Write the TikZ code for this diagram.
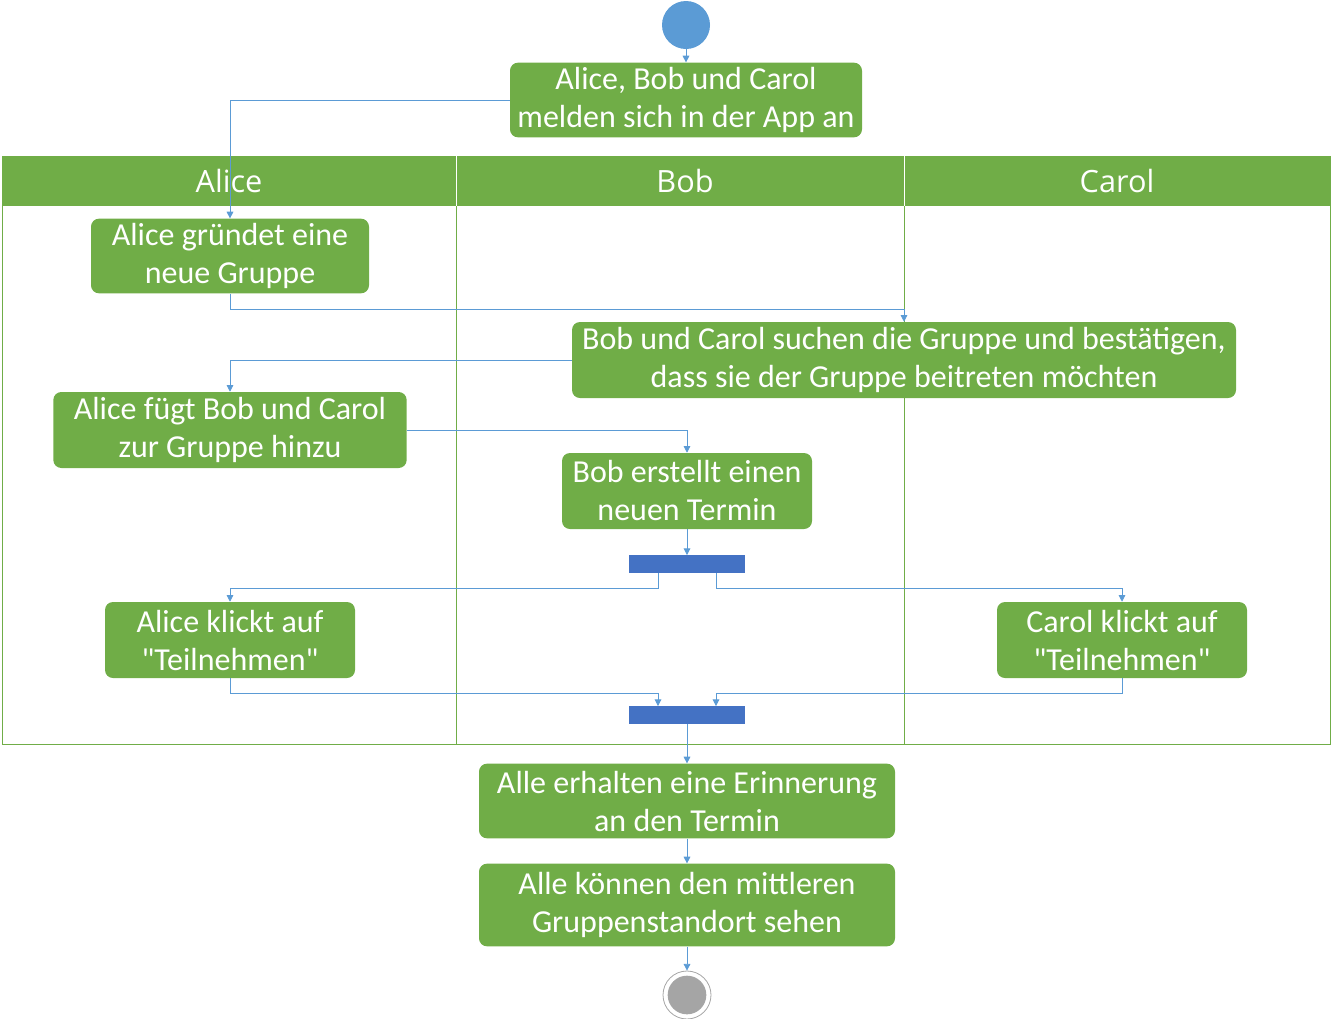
\documentclass[tikz,border=0pt]{standalone}
\usepackage{fontspec}
\setmainfont{Carlito}
\newfontfamily\lanefont{Open Sans}
\usetikzlibrary{arrows.meta}
\definecolor{actgreen}{HTML}{70AD47}
\definecolor{flowblue}{HTML}{5B9BD5}
\definecolor{barblue}{HTML}{4472C4}
\definecolor{endgray}{HTML}{A5A5A5}
\tikzset{
  act/.style={rounded corners=6pt,fill=actgreen,text=white,align=center,inner sep=0pt,
    font=\fontsize{24}{28.5}\selectfont},
  syncbar/.style={fill=barblue,minimum width=87pt,minimum height=13pt,inner sep=0pt},
  flow/.style={draw=flowblue,line width=0.6pt,-{Triangle[length=5pt,width=5pt]}},
  lanetitle/.style={text=white,font=\lanefont\fontsize{23}{27}\selectfont}
}

\begin{document}
\begin{tikzpicture}[x=0.75pt,y=-0.75pt]
\useasboundingbox (0,0) rectangle (1332,1018);
%Дорожки
\fill[actgreen] (2,156) rectangle (1330,206);
\draw[actgreen,line width=0.75pt] (2,156) rectangle (1330,744);
\draw[actgreen,line width=0.75pt] (456,206)--(456,744) (904,206)--(904,744);
\draw[white,line width=0.75pt] (456,156)--(456,206) (904,156)--(904,206);
\node[lanetitle] (laneA) at (229,181) {Alice};
\node[lanetitle] (laneB) at (685,181) {Bob};
\node[lanetitle] (laneC) at (1117,181) {Carol};
%Начало и конец
\node[circle,fill=flowblue,minimum size=36pt,inner sep=0pt] (start) at (686,25) {};
\node[circle,draw=endgray,line width=0.6pt,minimum size=36pt,inner sep=0pt] (stop) at (687,995) {};
\fill[endgray] (stop) circle (14.5pt);
%Действия
\node[act,minimum width=264pt,minimum height=56pt] (login) at (686,100) {Alice, Bob und Carol\\melden sich in der App an};
\node[act,minimum width=208.5pt,minimum height=56pt] (found) at (230,256) {Alice gründet eine\\neue Gruppe};
\node[act,minimum width=498pt,minimum height=57pt] (search) at (904,360) {Bob und Carol suchen die Gruppe und bestätigen,\\dass sie der Gruppe beitreten möchten};
\node[act,minimum width=265pt,minimum height=57pt] (add) at (230,430) {Alice fügt Bob und Carol\\zur Gruppe hinzu};
\node[act,minimum width=187.5pt,minimum height=57pt] (termin) at (687,491) {Bob erstellt einen\\neuen Termin};
\node[syncbar] (fork) at (687,564) {};
\node[act,minimum width=187.5pt,minimum height=57pt] (joinA) at (230,640) {Alice klickt auf\\\textquotedbl Teilnehmen\textquotedbl};
\node[act,minimum width=187.5pt,minimum height=57pt] (joinC) at (1122,640) {Carol klickt auf\\\textquotedbl Teilnehmen\textquotedbl};
\node[syncbar] (merge) at (687,715) {};
\node[act,minimum width=312pt,minimum height=56pt] (remind) at (687,801) {Alle erhalten eine Erinnerung\\an den Termin};
\node[act,minimum width=312pt,minimum height=62pt] (place) at (687,905) {Alle können den mittleren\\Gruppenstandort sehen};
%Переходы
\draw[flow] (start) -- (login);
\draw[flow] (login.west) -| (found.north);
\draw[flow] (found.south) -- ++(0,16) -| (search.north);
\draw[flow] (search.west) -| (add.north);
\draw[flow] (add.east) -| (termin.north);
\draw[flow] (termin) -- (fork);
\draw[flow] ([xshift=-21.75pt]fork.south) -- ++(0,15) -| (joinA.north);
\draw[flow] ([xshift=21.75pt]fork.south) -- ++(0,15) -| (joinC.north);
\draw[flow] (joinA.south) -- ++(0,15) -| ([xshift=-21.75pt]merge.north);
\draw[flow] (joinC.south) -- ++(0,15) -| ([xshift=21.75pt]merge.north);
\draw[flow] (merge) -- (remind);
\draw[flow] (remind) -- (place);
\draw[flow] (place) -- (stop);
\end{tikzpicture}
\end{document}
